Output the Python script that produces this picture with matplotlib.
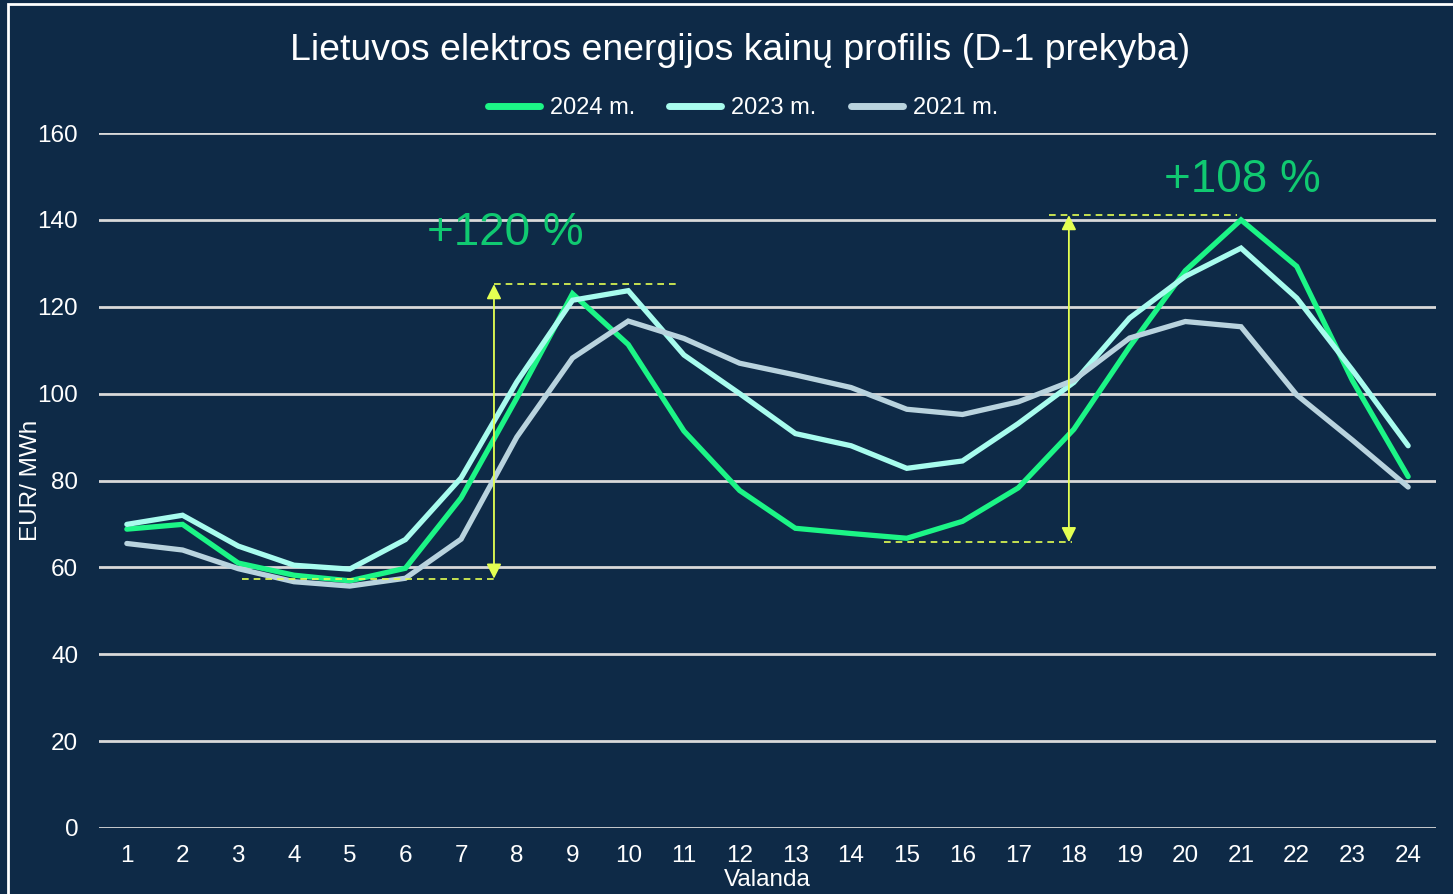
import matplotlib
matplotlib.use("Agg")
import matplotlib.pyplot as plt
from matplotlib.patches import Rectangle

plt.rcParams['font.family'] = ['Liberation Sans', 'DejaVu Sans']

hours = list(range(1, 25))
p2024 = [68.8, 69.9, 61.0, 58.2, 56.9, 59.8, 76.0, 99.0, 123.0, 111.3, 91.4, 77.7,
         69.0, 67.8, 66.7, 70.6, 78.3, 91.8, 110.8, 128.3, 140.0, 129.3, 103.0, 80.9]
p2023 = [69.9, 72.0, 64.9, 60.5, 59.6, 66.4, 80.6, 102.7, 121.5, 123.7, 108.9, 100.0,
         90.8, 88.0, 82.8, 84.5, 93.1, 102.6, 117.4, 127.0, 133.5, 122.0, 105.4, 88.0]
p2021 = [65.5, 64.0, 59.7, 56.7, 55.7, 57.5, 66.5, 90.0, 108.2, 116.7, 112.7, 107.0,
         104.3, 101.4, 96.4, 95.2, 98.1, 103.1, 112.8, 116.6, 115.4, 99.7, 89.3, 78.5]
series_labels = ['2024 m.', '2023 m.', '2021 m.']
series_colors = ['#1CF586', '#A8FCEE', '#B9D3DE']
yticks = [0, 20, 40, 60, 80, 100, 120, 140, 160]

# annotations
ann1 = dict(x=7.59, lo=57.4, hi=125.2, lo_x=(3.06, 7.59), hi_x=(7.59, 10.93),
            text='+120 %', tx=7.79, ty=137.0)
ann2 = dict(x=17.91, lo=65.8, hi=141.1, lo_x=(14.6, 17.97), hi_x=(17.55, 20.92),
            text='+108 %', tx=21.02, ty=149.2)

bg = '#0E2A47'
W, H = 1453, 894
fig = plt.figure(figsize=(W / 100, H / 100), dpi=100, facecolor=bg)
ax = fig.add_axes([99 / W, 1 - 828 / H, (1436 - 99) / W, (828 - 133) / H])
ax.set_facecolor(bg)

# frame
fig.patches.append(Rectangle((8 / W, -0.1), 1.2, 1 - 4 / H + 0.1, transform=fig.transFigure,
                             fill=False, edgecolor='white', linewidth=2, zorder=0))

ax.set_xlim(0.5, 24.5)
ax.set_ylim(0, 160)
ax.set_yticks(yticks)
ax.set_xticks(hours)
ax.grid(axis='y', color='#D9D9D9', linewidth=2)
ax.set_axisbelow(True)
for s in ax.spines.values():
    s.set_visible(False)
ax.tick_params(axis='both', length=0, colors='white', labelsize=17.5)
ax.tick_params(axis='y', pad=15)
ax.tick_params(axis='x', pad=12)

lines = []
for vals, lab, col in zip([p2024, p2023, p2021], series_labels, series_colors):
    ln, = ax.plot(hours, vals, color=col, linewidth=3.8, label=lab, solid_capstyle='round',
                  solid_joinstyle='miter')
    lines.append(ln)

acol = '#E4FF52'
for a in (ann1, ann2):
    ax.annotate('', xy=(a['x'], a['hi']), xytext=(a['x'], a['lo']),
                arrowprops=dict(arrowstyle='<|-|>', color=acol, lw=1.3,
                                mutation_scale=22, shrinkA=0, shrinkB=0))
    ax.plot(a['lo_x'], [a['lo'], a['lo']], color=acol, lw=1.2, ls=(0, (4, 3)))
    ax.plot(a['hi_x'], [a['hi'], a['hi']], color=acol, lw=1.2, ls=(0, (4, 3)))
    ax.text(a['tx'], a['ty'], a['text'], color='#10C971', fontsize=33, ha='center', va='center')

ax.set_ylabel('EUR/ MWh', color='white', fontsize=17.5)
ax.set_xlabel('Valanda', color='white', fontsize=17.5, labelpad=1.5)
ax.yaxis.set_label_coords(-57 / (1436 - 99), 0.5)

fig.text(740 / W, 1 - 50 / H, 'Lietuvos elektros energijos kainų profilis (D-1 prekyba)',
         color='white', fontsize=26.9, ha='center', va='center')

leg = fig.legend(handles=lines, loc='center', bbox_to_anchor=(743 / W, 1 - 108 / H), ncol=3,
                 frameon=False, fontsize=17, labelcolor='white', handlelength=2.2,
                 columnspacing=1.45, handletextpad=0.42)
for lh in leg.get_lines():
    lh.set_linewidth(5)

fig.savefig('out.png', dpi=100, facecolor=bg)
